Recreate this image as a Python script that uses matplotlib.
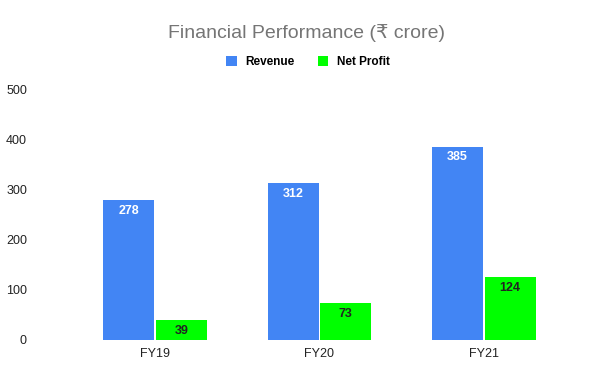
import matplotlib
matplotlib.use('Agg')
import matplotlib.pyplot as plt
import numpy as np

years = ['FY19', 'FY20', 'FY21']
revenue = [278, 312, 385]
net_profit = [39, 73, 124]
yticks = [0, 100, 200, 300, 400, 500]

plt.rcParams['font.family'] = ['Liberation Sans', 'DejaVu Sans']

fig = plt.figure(figsize=(6.12, 3.79), dpi=100)
ax = fig.add_axes([0.119, 0.104, 0.806, 0.661])

x = np.arange(len(years))
w = 0.31
b1 = ax.bar(x - 0.16, revenue, w, color='#4285f4', label='Revenue')
b2 = ax.bar(x + 0.16, net_profit, w, color='#00ff00', label='Net Profit')

for rect, v in zip(b1, revenue):
    ax.text(rect.get_x() + rect.get_width() / 2, v - 9, str(v), ha='center', va='top',
            color='white', fontsize=9, fontweight='bold')
for rect, v in zip(b2, net_profit):
    ax.text(rect.get_x() + rect.get_width() / 2, v - 9, str(v), ha='center', va='top',
            color='#222222', fontsize=9, fontweight='bold')

ax.set_xlim(-0.5, 2.5)
ax.set_ylim(0, 500)
ax.set_xticks(x)
ax.set_xticklabels(years, fontsize=9, color='#222222')
ax.set_yticks(yticks)
ax.set_yticklabels([str(t) for t in yticks], fontsize=9, color='#222222')
ax.tick_params(axis='y', length=0, pad=33)
ax.tick_params(axis='x', length=0, pad=6)
for s in ax.spines.values():
    s.set_visible(False)

fig.text(0.5, 0.912, 'Financial Performance (₹ crore)', ha='center', va='center',
         fontsize=14, color='#757575')
fig.legend(handles=[b1, b2], loc='center', bbox_to_anchor=(0.503, 0.836), ncol=2,
           frameon=False, prop={'size': 8.5, 'weight': 'bold'},
           handlelength=0.9, handleheight=0.9, columnspacing=2.0, handletextpad=0.7)

fig.savefig('out.png', dpi=100)
